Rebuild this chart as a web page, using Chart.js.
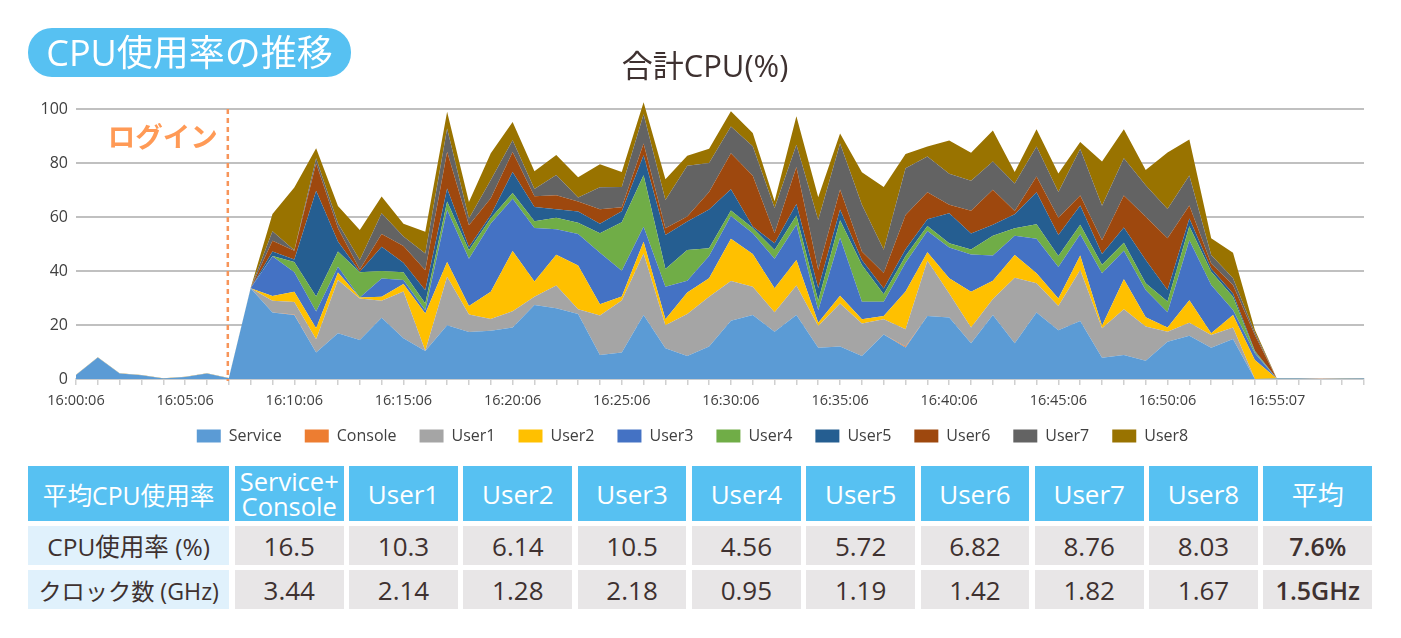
<!DOCTYPE html>
<html lang="ja">
<head>
<meta charset="utf-8">
<script src="https://cdn.jsdelivr.net/npm/chart.js@4"></script>
<style>
  html, body { margin: 0; padding: 0; background: #fff; overflow: hidden; }
  body { width: 1401px; height: 638px; position: relative; font-family: "Open Sans", "Noto Sans CJK JP", sans-serif; color: #3e3130; }
  #wrap { position: absolute; left: 0; top: 0; width: 1401px; height: 462px; }
  #badge { position: absolute; left: 28px; top: 28px; width: 323px; height: 49px; border-radius: 24px; background: #57c1f2; color: #fff; font-size: 36px; line-height: 49px; text-align: center; }
  #title { position: absolute; left: 505px; top: 44px; width: 400px; text-align: center; font-size: 31px; line-height: 42px; }
  #tbl { position: absolute; left: 28px; top: 466px; display: grid; grid-template-columns: 201.3px repeat(10, 108.7px); grid-template-rows: 55px 38.5px 38.5px; column-gap: 5.6px; row-gap: 5.4px; }
  #tbl div { display: flex; align-items: center; justify-content: center; text-align: center; background: #e8e6e7; font-size: 26px; }
  #tbl .hd { background: #57c1f2; color: #fff; }
  #tbl .lb { background: #e0f1fc; font-size: 24.5px; white-space: nowrap; }
  #tbl .lb.clock { font-size: 23.2px; }
  #tbl .hd.two { font-size: 25.5px; line-height: 25px; }
  #tbl .hd.first { font-size: 24.7px; }
  #tbl .av { font-weight: 600; font-size: 25px; }
</style>
</head>
<body>
<div id="wrap"><canvas id="cpuChart" width="1401" height="462"></canvas></div>
<div id="badge">CPU使用率の推移</div>
<div id="title">合計CPU(%)</div>
<div id="tbl"></div>
<script>
const times = [
  "16:00:06","16:01:06","16:02:06","16:03:06","16:04:06","16:05:06","16:06:06","16:07:06","16:08:06","16:09:06",
  "16:10:06","16:11:06","16:12:06","16:13:06","16:14:06","16:15:06","16:16:06","16:17:06","16:18:06","16:19:06",
  "16:20:06","16:21:06","16:22:06","16:23:06","16:24:06","16:25:06","16:26:06","16:27:06","16:28:06","16:29:06",
  "16:30:06","16:31:06","16:32:06","16:33:06","16:34:06","16:35:06","16:36:06","16:37:06","16:38:06","16:39:06",
  "16:40:06","16:41:06","16:42:06","16:43:06","16:44:06","16:45:06","16:46:06","16:47:06","16:48:06","16:49:06",
  "16:50:06","16:51:06","16:52:06","16:53:06","16:54:06","16:55:07","16:56:07","16:57:07","16:58:07","16:59:07"
];
const LOGIN_INDEX = 7;

const service = [1.5,8,2,1.4,0.2,0.7,2,0.3,33.6,
  24.6,23.7,9.8,16.9,14.4,22.7,15.1,10.4,19.9,17.4,17.9,19.1,27.4,26.2,24.1,8.9,9.8,23.7,11.4,8.5,12.0,21.6,23.7,17.5,23.7,11.6,12.0,8.5,16.5,11.7,23.3,22.8,13.2,23.7,13.2,24.6,18.1,21.5,7.9,8.9,6.8,13.8,16.0,11.6,14.8,0,
  0.2,0.2,0,0.1,0.2];
const consoleCpu = [0,0,0,0,0,0,0,0,0,
  0,0.2,0,0,0,0,0,0,0,0,0,0,0,0,0,0,0,0,0,0,0,0,0,0,0,0,0,0,0,0.3,0,0,0,0,0,0,0,0,0,0,0,0,0,0,0,0,
  0,0,0.1,0,0];
const user1 = [0,0,0,0,0,0,0,0,0,
  4.4,4.6,4.9,19.8,15.4,6.3,17.3,0.1,18.0,6.5,4.3,6.0,3.1,8.4,1.7,14.6,19.3,22.8,8.5,15.6,18.5,14.7,10.5,7.2,10.9,8.0,16.0,12.1,5.6,6.4,20.5,8.9,5.9,5.9,24.3,10.9,8.9,18.9,10.9,16.9,12.6,3.7,4.8,4.7,4.3,0,
  0,0,0,0,0];
const user2 = [0,0,0,0,0,0,0,0,0,
  1.7,3.8,4.1,2.7,0.4,1.5,2.8,13.8,5.4,3.1,10.1,22.3,5.6,11.4,16.2,4.2,1.5,4.3,2.2,7.9,6.8,15.6,12.1,8.9,9.5,1.2,2.8,1.5,1.2,14.0,3.1,5.6,13.2,6.8,8.4,3.7,2.8,5.3,0.9,11.1,3.5,1.6,8.4,0.6,4.6,7.0,
  0,0,0,0,0];
const user3 = [0,0,0,0,0,0,0,0,0,
  14.8,7.2,6.2,2.2,0,6.7,1.5,1.2,19.3,17.5,25.3,19.4,19.8,9.5,11.7,19.1,9.5,5.6,12.1,4.4,8.3,8.5,7.7,10.9,13.0,4.7,21.5,6.5,5.3,10.7,7.9,11.4,13.8,9.3,7.2,12.7,11.7,7.9,19.5,10.6,10.1,5.6,22.2,17.9,1.9,2.5,
  0,0,0,0,0];
const user4 = [0,0,0,0,0,0,0,0,0,
  0.1,3.8,5.6,5.6,9.3,2.8,2.8,2.5,3.1,3.2,1.9,2.1,2.5,4.2,4.2,7.2,18.0,19.1,6.5,11.4,2.8,2.0,1.9,3.3,3.5,3.5,6.5,13.6,2.8,2.5,1.9,1.6,1.9,7.4,2.7,5.4,4.1,3.5,3.1,3.0,2.5,4.0,5.2,4.9,4.9,0.6,
  0,0,0,0,0];
const user5 = [0,0,0,0,0,0,0,0,0,
  1.6,1.0,39.1,3.7,0.2,9.0,3.6,4.9,4.9,1.2,1.2,7.8,5.3,3.2,4.1,3.5,4.0,7.4,12.6,10.5,14.4,7.9,0.6,2.5,4.2,4.6,4.0,1.9,2.1,2.5,2.5,11.1,5.9,4.0,5.2,11.9,7.7,7.2,4.0,5.6,8.6,4.3,2.8,1.2,1.2,0.4,
  0,0,0,0,0];
const user6 = [0,0,0,0,0,0,0,0,0,
  4.0,3.2,10.2,4.9,0.9,4.7,6.2,7.4,13.6,8.0,6.2,7.4,4.0,5.2,3.7,5.4,1.5,4.3,2.5,1.9,6.5,13.3,18.8,3.7,13.7,6.8,7.4,3.1,5.8,12.6,10.0,3.1,8.4,13.0,1.2,5.8,6.4,3.7,5.1,11.9,16.0,19.1,4.9,1.9,3.1,5.8,
  0,0,0,0,0];
const user7 = [0,0,0,0,0,0,0,0,0,
  3.5,0.2,1.9,1.9,3.5,7.7,3.5,6.2,8.6,2.5,6.8,4.3,2.7,7.5,1.5,8.1,7.5,10.9,10.5,18.8,10.7,9.9,10.9,9.3,8.3,18.5,17.0,17.3,8.6,17.4,13.2,11.5,11.1,10.5,10.2,11.1,9.6,17.2,12.8,13.8,11.7,10.9,11.1,3.1,2.5,0.9,
  0,0,0,0,0];
const user8 = [0.1,0.1,0.1,0.1,0.1,0.1,0.1,0.1,0.1,
  6.4,23.2,3.7,6.4,11.1,6.2,4.7,8.0,6.2,6.2,9.9,6.8,6.5,7.4,7.5,8.5,5.6,4.4,7.7,3.7,5.3,5.7,4.9,2.5,10.5,8.4,3.7,12.1,23.2,5.2,3.7,12.3,10.4,11.4,4.3,6.4,6.8,2.6,16.4,10.7,5.6,20.9,13.3,6.2,9.5,1.0,
  0.1,0.1,0,0.1,0.1];

const seriesNames = ["Service","Console","User1","User2","User3","User4","User5","User6","User7","User8"];
const seriesValues = [service,consoleCpu,user1,user2,user3,user4,user5,user6,user7,user8];
const seriesColors = ["#5b9bd5","#ed7d31","#a5a5a5","#ffc000","#4472c4","#70ad47","#255e91","#9e480e","#636363","#997300"];

const tableHeads = ["平均CPU使用率","Service+<br>Console","User1","User2","User3","User4","User5","User6","User7","User8","平均"];
const cpuRow = ["CPU使用率 (%)","16.5","10.3","6.14","10.5","4.56","5.72","6.82","8.76","8.03","7.6%"];
const clockRow = ["クロック数 (GHz)","3.44","2.14","1.28","2.18","0.95","1.19","1.42","1.82","1.67","1.5GHz"];

// 表はDOMで組む
const tbl = document.getElementById("tbl");
tableHeads.forEach((t, i) => {
  const d = document.createElement("div");
  d.className = "hd" + (i === 1 ? " two" : "") + (i === 0 ? " first" : "");
  d.innerHTML = t;
  tbl.appendChild(d);
});
[cpuRow, clockRow].forEach((row, r) => {
  row.forEach((t, i) => {
    const d = document.createElement("div");
    if (i === 0) d.className = r === 1 ? "lb clock" : "lb";
    if (i === row.length - 1) d.className = "av";
    d.textContent = t;
    tbl.appendChild(d);
  });
});

// ログイン線
const loginMark = {
  id: "loginMark",
  afterDatasetsDraw(chart) {
    const { ctx, scales: { x, y } } = chart;
    const px = x.getPixelForValue(LOGIN_INDEX) - 1;
    ctx.save();
    ctx.strokeStyle = "#f7955a";
    ctx.lineWidth = 2.5;
    ctx.setLineDash([5, 4]);
    ctx.beginPath();
    ctx.moveTo(px, y.getPixelForValue(100));
    ctx.lineTo(px, y.getPixelForValue(0) + 2);
    ctx.stroke();
    ctx.restore();
    ctx.save();
    ctx.font = "700 27.5px 'Noto Sans CJK JP'";
    ctx.fillStyle = "#ff9a56";
    ctx.textAlign = "right";
    ctx.textBaseline = "middle";
    ctx.fillText("ログイン", px - 10, y.getPixelForValue(100) + 28);
    ctx.restore();
  }
};

new Chart(document.getElementById("cpuChart"), {
  type: "line",
  plugins: [loginMark],
  data: {
    labels: times,
    datasets: seriesNames.map((name, i) => ({
      label: name,
      data: seriesValues[i],
      backgroundColor: seriesColors[i],
      borderColor: seriesColors[i],
      borderWidth: 0,
      pointRadius: 0,
      tension: 0,
      fill: i === 0 ? "origin" : "-1",
    })),
  },
  options: {
    responsive: false,
    animation: false,
    devicePixelRatio: 1,
    layout: {
      autoPadding: false,
      padding: { left: 21, right: 37, top: 100.9, bottom: 8 },
    },
    plugins: {
      title: { display: false },
      tooltip: { enabled: false },
      legend: {
        position: "bottom",
        labels: {
          boxWidth: 24,
          boxHeight: 13,
          padding: 23,
          color: "#404040",
          font: { size: 16, family: "'Open Sans','Noto Sans CJK JP'" },
        },
      },
    },
    scales: {
      x: {
        afterFit(s) { s.height = 26; },
        grid: { drawOnChartArea: false, drawTicks: true, tickLength: 6, color: "#d0d0d0", lineWidth: 1.5 },
        border: { color: "#d0d7dd", width: 1.5 },
        ticks: {
          autoSkip: false,
          maxRotation: 0,
          padding: 7,
          color: "#404040",
          font: { size: 14.5, family: "'Open Sans'" },
          callback(v, i) { return i % 5 === 0 && i < 56 ? times[i] : ""; },
        },
      },
      y: {
        stacked: true,
        min: 0,
        max: 103,
        afterFit(s) { s.width = 55; },
        grid: { color: "#c0c0c0", lineWidth: 2, drawTicks: false },
        border: { display: false },
        ticks: {
          stepSize: 20,
          includeBounds: false,
          padding: 8,
          color: "#404040",
          font: { size: 16, family: "'Open Sans'" },
        },
      },
    },
  },
});
</script>
</body>
</html>
